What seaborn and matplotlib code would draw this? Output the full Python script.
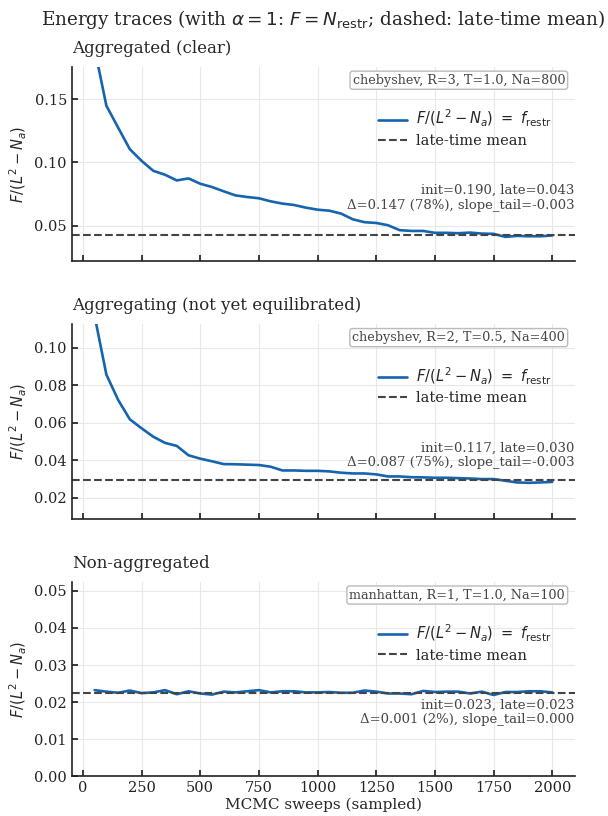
import seaborn as sns
import matplotlib.pyplot as plt
import pandas as pd

# sampled sweeps (same for the three runs)
sweeps = list(range(50, 2001, 50))

# energy per restricted site
f_clear = [0.190, 0.1449, 0.1276, 0.1105, 0.1013, 0.0934, 0.0903, 0.0858, 0.0874, 0.0832,
           0.0806, 0.0772, 0.0740, 0.0727, 0.0717, 0.0693, 0.0675, 0.0664, 0.0643, 0.0627,
           0.0619, 0.0596, 0.0551, 0.0528, 0.0522, 0.0504, 0.0465, 0.0459, 0.0459, 0.0444,
           0.0444, 0.0441, 0.0446, 0.0438, 0.0436, 0.0412, 0.0420, 0.0417, 0.0417, 0.0423]
f_aggr = [0.117, 0.0857, 0.0722, 0.0618, 0.0570, 0.0525, 0.0492, 0.0476, 0.0426, 0.0408,
          0.0394, 0.0379, 0.0378, 0.0376, 0.0374, 0.0365, 0.0345, 0.0345, 0.0343, 0.0343,
          0.0340, 0.0333, 0.0329, 0.0329, 0.0324, 0.0313, 0.0313, 0.0309, 0.0308, 0.0306,
          0.0306, 0.0304, 0.0302, 0.0299, 0.0299, 0.0290, 0.0281, 0.0279, 0.0281, 0.0284]
f_nonagg = [0.0232, 0.0228, 0.0225, 0.0231, 0.0224, 0.0226, 0.0232, 0.0221, 0.0229, 0.0223,
            0.0220, 0.0228, 0.0226, 0.0229, 0.0232, 0.0226, 0.0229, 0.0229, 0.0226, 0.0226,
            0.0227, 0.0225, 0.0225, 0.0231, 0.0228, 0.0223, 0.0223, 0.0221, 0.0230, 0.0227,
            0.0228, 0.0228, 0.0223, 0.0228, 0.0219, 0.0227, 0.0227, 0.0229, 0.0229, 0.0226]

late_means = [0.0428, 0.0292, 0.0225]
panel_titles = ["Aggregated (clear)", "Aggregating (not yet equilibrated)", "Non-aggregated"]
run_labels = ["chebyshev, R=3, T=1.0, Na=800",
              "chebyshev, R=2, T=0.5, Na=400",
              "manhattan, R=1, T=1.0, Na=100"]
stats_labels = ["init=0.190, late=0.043\nΔ=0.147 (78%), slope_tail=-0.003",
                "init=0.117, late=0.030\nΔ=0.087 (75%), slope_tail=-0.003",
                "init=0.023, late=0.023\nΔ=0.001 (2%), slope_tail=0.000"]
ylims = [(0.022, 0.1755), (0.0088, 0.1125), (0.0, 0.0525)]
yticks = [[0.05, 0.10, 0.15],
          [0.02, 0.04, 0.06, 0.08, 0.10],
          [0.00, 0.01, 0.02, 0.03, 0.04, 0.05]]

sns.set_theme(style="ticks")
plt.rcParams["font.family"] = ["DejaVu Serif"]
plt.rcParams["mathtext.fontset"] = "dejavusans"

fig, axes = plt.subplots(3, 1, figsize=(6.08, 8.16), dpi=100)
fig.subplots_adjust(left=0.118, right=0.946, top=0.918, bottom=0.049, hspace=0.325)

BLUE = "#1764ae"

for ax, vals, mean, title, run, stats, yl, yt in zip(
        axes, [f_clear, f_aggr, f_nonagg], late_means, panel_titles,
        run_labels, stats_labels, ylims, yticks):
    df = pd.DataFrame({"sweep": sweeps, "f": vals})
    sns.lineplot(data=df, x="sweep", y="f", ax=ax, color=BLUE, lw=1.9,
                 label=r"$F/(L^2-N_a)\ =\ f_{\rm restr}$")
    ax.axhline(mean, color="#444444", ls="--", lw=1.5, label="late-time mean")

    ax.set_ylim(*yl)
    ax.set_yticks(yt)
    ax.set_xticks(range(0, 2001, 250))
    ax.grid(True, color="#e8e8e8", lw=0.8)
    ax.tick_params(axis="both", which="both", direction="in", length=4,
                   labelsize=10.5, colors="#222222")
    for s in ["left", "bottom"]:
        ax.spines[s].set_linewidth(1.2)
        ax.spines[s].set_color("#222222")
    sns.despine(ax=ax)

    ax.set_title(title, loc="left", fontsize=12, pad=10)
    ax.set_ylabel(r"$F/(L^2-N_a)$", fontsize=10.5)
    ax.set_xlabel("")

    ax.text(0.98, 0.965, run, transform=ax.transAxes, ha="right", va="top",
            fontsize=9.2, color="#444444",
            bbox=dict(boxstyle="round,pad=0.2", fc="white", ec="#bbbbbb", lw=1))
    ax.text(0.998, 0.255, stats, transform=ax.transAxes, ha="right", va="bottom",
            fontsize=9.5, color="#444444", linespacing=1.15)
    ax.legend(loc="upper right", bbox_to_anchor=(0.978, 0.855), frameon=False,
              fontsize=10.5, handlelength=2.0, handletextpad=0.6, labelspacing=0.3)

axes[2].set_xlabel("MCMC sweeps (sampled)", fontsize=11, labelpad=2)
for ax in axes[:2]:
    ax.tick_params(labelbottom=False)

fig.text(0.532, 0.962, r"Energy traces (with $\alpha=1$: $F=N_{\rm restr}$; dashed: late-time mean)",
         ha="center", va="bottom", fontsize=13.2)

plt.savefig("out.png", dpi=100)
